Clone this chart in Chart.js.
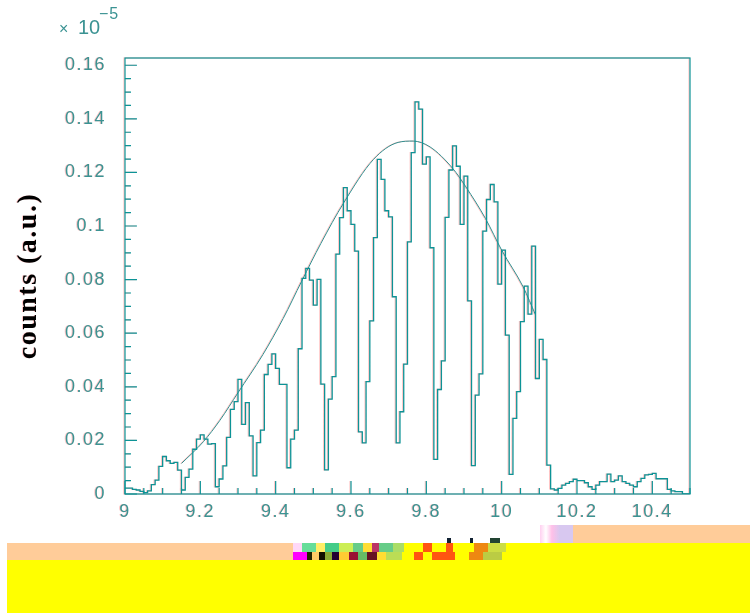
<!DOCTYPE html>
<html>
<head>
<meta charset="utf-8">
<script src="https://cdn.jsdelivr.net/npm/chart.js@4"></script>
<style>
  html, body { margin: 0; padding: 0; background: #fff; }
  #wrap { position: relative; width: 750px; height: 613px; overflow: hidden; }
  #plot { position: absolute; left: 0; top: 0; filter: drop-shadow(-1px 0 0 rgba(255, 90, 90, .35)) blur(.35px); }
  .exp { position: absolute; color: #3b9393; font-family: "Liberation Sans", sans-serif; }
  .band { position: absolute; }
</style>
</head>
<body>
<div id="wrap">
  <canvas id="plot" width="750" height="613"></canvas>
  <div class="exp" style="left:59px;top:20px;font-size:16px">×</div>
  <div class="exp" style="left:78px;top:16px;font-size:20px">10</div>
  <div class="exp" style="left:99px;top:5px;font-size:16px;letter-spacing:1px">−5</div>

  <!-- broken strip under the x axis, same as in the source scan -->
  <div class="band" style="left:7px;top:560px;width:743px;height:53px;background:#ffff00"></div>
  <div class="band" style="left:7px;top:543px;width:287px;height:17px;background:#ffcc99"></div>
  <div class="band" style="left:525px;top:543px;width:225px;height:17px;background:#ffff00"></div>
  <div class="band" style="left:573px;top:525px;width:177px;height:18px;background:#ffcc99"></div>
  <div class="band" style="left:540px;top:525px;width:33px;height:18px;background:linear-gradient(90deg,#ffd0f0 0,#fff 18%,#ffc0e8 36%,#d8c8f0 60%,#d8c8f0 100%)"></div>
  <div class="band" style="left:293px;top:543px;width:232px;height:9px;background:linear-gradient(90deg,#ffd8f8 0 4%,#66dd99 4% 10%,#ffee66 10% 14%,#44cc88 14% 20%,#ccee55 20% 26%,#66cc88 26% 30%,#ffdd33 30% 34%,#bb3366 34% 37%,#66cc88 37% 43%,#aadd66 43% 48%,#ffff00 48% 56%,#ff5511 56% 60%,#ffff00 60% 66%,#ff5511 66% 69%,#ffff00 69% 78%,#ee8811 78% 84%,#ccdd44 84% 92%,#ffff00 92%)"></div>
  <div class="band" style="left:293px;top:552px;width:232px;height:8px;background:linear-gradient(90deg,#ff00ff 0 6%,#222200 6% 8%,#ffcc66 8% 11%,#111100 11% 14%,#88aa33 14% 17%,#220033 17% 20%,#ffcc33 20% 24%,#991133 24% 28%,#66bb66 28% 32%,#661122 32% 36%,#ffdd33 36% 40%,#bbdd55 40% 47%,#ffff00 47% 52%,#ff5511 52% 56%,#ffff00 56% 60%,#ff5511 60% 70%,#ffff00 70% 76%,#ee8811 76% 82%,#bbcc44 82% 90%,#ffff00 90%)"></div>
  <div class="band" style="left:447px;top:538px;width:4px;height:5px;background:#123"></div>
  <div class="band" style="left:470px;top:538px;width:3px;height:5px;background:#123"></div>
  <div class="band" style="left:490px;top:538px;width:10px;height:5px;background:#243"></div>
</div>

<script>
// histogram, one value per bin (axis units, x 10^-5)
const binStart = 9;
const binWidth = 0.01;
const binValues = [
  .0022, .0022, .0017, .0015, .0010, .0005, .0012, .0035, .0052, .0103,
  .0140, .0124, .0114, .0118, .0089, .0015, .0062, .0093, .0167, .0205,
  .0221, .0205, .0186, .0188, .0027, .0056, .0105, .0211, .0316, .0345,
  .0428, .0260, .0341, .0217, .0068, .0192, .0238, .0446, .0484, .0523,
  .0469, .0409, .0409, .0098, .0205, .0238, .0542, .0805, .0842, .0798,
  .0705, .0801, .0410, .0090, .0354, .0438, .0895, .1031, .1143, .1057,
  .1006, .0906, .0232, .0191, .0419, .0646, .0957, .1249, .1174, .1057,
  .1034, .0736, .0191, .0307, .0485, .0941, .1274, .1463, .1436, .1231,
  .1258, .0919, .0129, .0390, .0497, .1032, .1209, .1299, .1223, .1006,
  .1186, .0721, .0106, .0369, .0448, .0981, .1099, .1155, .1090, .0783,
  .0910, .0593, .0073, .0282, .0382, .0643, .0776, .0671, .0925, .0431,
  .0577, .0502, .0108, .0019, .0015, .0021, .0033, .0040, .0046, .0055,
  .0050, .0050, .0042, .0027, .0017, .0033, .0046, .0046, .0074, .0046,
  .0052, .0068, .0046, .0040, .0033, .0027, .0046, .0058, .0071, .0073,
  .0077, .0057, .0057, .0057, .0017, .0012, .0009, .0009, 0, 0
];

// fitted curve
const fitX = [9.15, 9.208, 9.252, 9.30, 9.366, 9.42, 9.469, 9.52, 9.58, 9.66, 9.725, 9.765, 9.81, 9.87, 9.905, 9.957, 10.0, 10.057, 10.09];
const fitY = [.0114, .0195, .0275, .0378, .0520, .0655, .0794, .0935, .1085, .1249, .1312, .1317, .1295, .1215, .1146, .1028, .0910, .0773, .0668];

const xTickLabels = [9, 9.2, 9.4, 9.6, 9.8, 10, 10.2, 10.4];
const yTickLabels = [0, 0.02, 0.04, 0.06, 0.08, 0.1, 0.12, 0.14, 0.16];

const teal = '#0d9396';

function labelFor(list, value) {
    const hit = list.find(v => Math.abs(v - value) < 1e-6);
    return hit === undefined ? '' : String(hit);
}

const histPoints = binValues.map((v, i) => ({x: binStart + i * binWidth, y: v}));
histPoints.push({x: binStart + binValues.length * binWidth, y: binValues[binValues.length - 1]});

// closed box, ticks pointing inward
const frameTicks = {
    id: 'frameTicks',
    beforeDraw(chart) {
        chart.ctx.letterSpacing = '1.5px';
    },
    afterDraw(chart) {
        const {ctx, chartArea: a, scales} = chart;
        ctx.save();
        ctx.strokeStyle = teal;
        ctx.lineWidth = 1.2;
        ctx.strokeRect(a.left, a.top, a.right - a.left, a.bottom - a.top);
        ctx.beginPath();
        scales.x.ticks.forEach(t => {
            const px = scales.x.getPixelForValue(t.value);
            ctx.moveTo(px, a.bottom);
            ctx.lineTo(px, a.bottom - (labelFor(xTickLabels, t.value) ? 13 : 6));
        });
        scales.y.ticks.forEach(t => {
            const py = scales.y.getPixelForValue(t.value);
            ctx.moveTo(a.left, py);
            ctx.lineTo(a.left + (labelFor(yTickLabels, t.value) ? 12 : 6), py);
        });
        ctx.stroke();
        ctx.restore();
    }
};

const tickFont = {family: '"Liberation Sans", sans-serif', size: 18};

new Chart(document.getElementById('plot').getContext('2d'), {
    type: 'line',
    data: {
        datasets: [
            {
                label: 'histogram',
                data: histPoints,
                stepped: 'before',
                borderColor: teal,
                borderWidth: 1.3,
                pointRadius: 0,
                fill: false
            },
            {
                label: 'fit',
                data: fitX.map((x, i) => ({x: x, y: fitY[i]})),
                cubicInterpolationMode: 'monotone',
                borderColor: '#2f8f8f',
                borderWidth: 1,
                pointRadius: 0,
                fill: false
            }
        ]
    },
    options: {
        responsive: false,
        animation: false,
        events: [],
        layout: {padding: {left: 12, right: 60, top: 58, bottom: 79}},
        plugins: {legend: {display: false}, tooltip: {enabled: false}},
        scales: {
            x: {
                type: 'linear',
                min: 9,
                max: 10.5,
                afterFit(s) { s.height = 40; },
                grid: {display: false},
                border: {display: false},
                ticks: {
                    stepSize: 0.05,
                    autoSkip: false,
                    maxRotation: 0,
                    includeBounds: false,
                    padding: -1,
                    color: '#3b9393',
                    font: tickFont,
                    callback: v => labelFor(xTickLabels, v)
                }
            },
            y: {
                min: 0,
                max: 0.1627,
                afterFit(s) { s.width = 113; },
                grid: {display: false},
                border: {display: false},
                title: {
                    display: true,
                    text: 'counts (a.u.)',
                    color: '#000',
                    font: {family: '"Liberation Serif", serif', size: 28, weight: 'bold'},
                    padding: 0
                },
                ticks: {
                    stepSize: 0.005,
                    autoSkip: false,
                    includeBounds: false,
                    padding: 11,
                    color: '#3b9393',
                    font: tickFont,
                    callback: v => labelFor(yTickLabels, v)
                }
            }
        }
    },
    plugins: [frameTicks]
});
</script>
</body>
</html>
